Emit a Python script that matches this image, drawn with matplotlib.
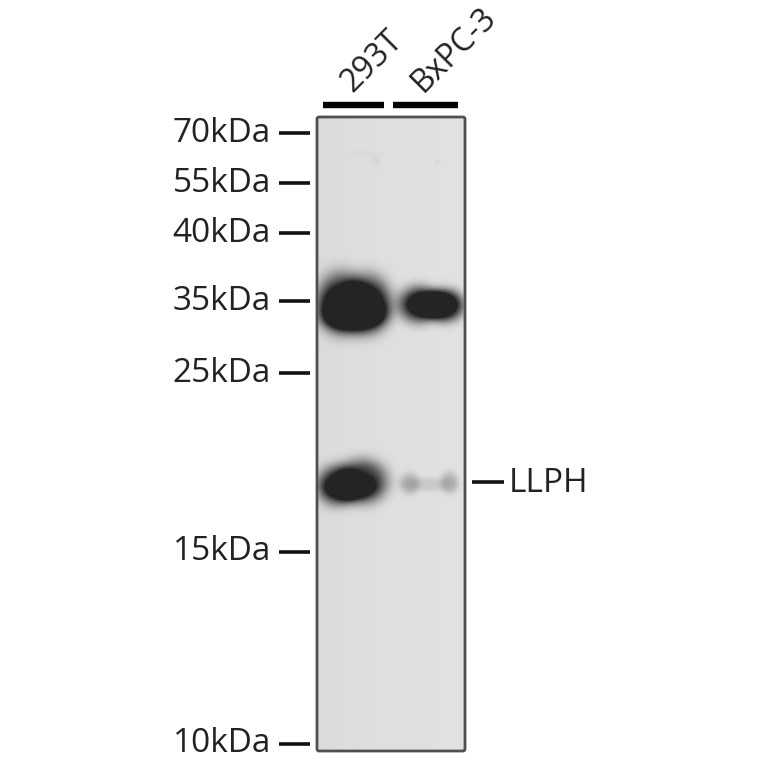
import numpy as np
import matplotlib
matplotlib.use("Agg")
import matplotlib.pyplot as plt
from matplotlib.patches import FancyBboxPatch

plt.rcParams['font.family'] = ['Open Sans', 'DejaVu Sans']

# marker ladder, pixel rows
marker_labels = ["70kDa", "55kDa", "40kDa", "35kDa", "25kDa", "15kDa", "10kDa"]
marker_rows = [133, 183, 233, 301, 373, 552, 744]
lane_labels = ["293T", "BxPC-3"]
lane_starts = [323, 393]
lane_ends = [384, 458]
lane_text_x = [358, 429]
protein = "LLPH"
protein_row = 482

# band lobes: centre x, row y, half width, half height, strength
band_x = [340, 367, 353, 342, 366, 418, 445, 432, 337, 362, 350, 409, 449, 428, 375, 362, 437]
band_y = [302, 303, 309, 316, 314, 304, 305, 304, 485, 481, 487, 483, 482, 484, 160, 153, 162]
band_rx = [24, 24, 30, 22, 22, 21, 19, 24, 21, 25, 24, 10, 9, 24, 5, 12, 3]
band_ry = [30, 29, 23, 13, 13, 19, 17, 14, 20, 22, 12, 11, 11, 7, 7, 4, 4]
band_amp = [0.95, 0.95, 0.8, 0.35, 0.35, 0.85, 0.9, 0.7, 0.95, 0.95, 0.55, 0.24, 0.24, 0.12, 0.035, 0.025, 0.03]

blot_left, blot_right, blot_top, blot_bottom = 317, 465, 117, 751
paper_grey = 221
ink_grey = 36

yy, xx = np.mgrid[blot_top:blot_bottom, blot_left:blot_right]
dark = np.zeros(xx.shape)
for cx, cy, rx, ry, amp in zip(band_x, band_y, band_rx, band_ry, band_amp):
    r2 = ((xx - cx) / rx) ** 2 + ((yy - cy) / ry) ** 2
    dark += amp * np.exp(-r2 ** 1.7)
dark = np.clip(dark, 0, 1)
# background gets a touch lighter away from the left edge
paper = paper_grey - 3 * np.exp(-(xx - blot_left) / 30) + 4 * (xx - blot_left) / (blot_right - blot_left)
blot = paper - (paper - ink_grey) * dark

fig = plt.figure(figsize=(7.64, 7.64), dpi=100)
ax = fig.add_axes([0, 0, 1, 1])
ax.axis("off")

ax.imshow(blot, cmap="gray", vmin=0, vmax=255, interpolation="bilinear",
          extent=(blot_left, blot_right, blot_bottom, blot_top), aspect="auto")
ax.set_xlim(0, 764)
ax.set_ylim(764, 0)
ax.add_patch(FancyBboxPatch((blot_left, blot_top), blot_right - blot_left, blot_bottom - blot_top,
                            boxstyle="round,pad=0,rounding_size=2", fc="none", ec="#505050", lw=2))

text_col = "#222222"
for lab, row in zip(marker_labels, marker_rows):
    ax.plot([279, 310], [row, row], color="#111111", lw=2.6, solid_capstyle="butt")
    ax.text(271, row, lab, ha="right", va="center", fontsize=24, color=text_col)

for lab, x0, x1, tx in zip(lane_labels, lane_starts, lane_ends, lane_text_x):
    ax.plot([x0, x1], [105, 105], color="black", lw=4.6, solid_capstyle="butt")
    ax.text(tx, 99, lab, rotation=45, rotation_mode="anchor", ha="left", va="bottom",
            fontsize=23, color=text_col, clip_on=False)

ax.plot([472, 504], [protein_row, protein_row], color="#111111", lw=2.6, solid_capstyle="butt")
ax.text(509, protein_row + 2, protein, ha="left", va="center", fontsize=24, color=text_col)

fig.savefig("out.png", dpi=100, facecolor="white")
